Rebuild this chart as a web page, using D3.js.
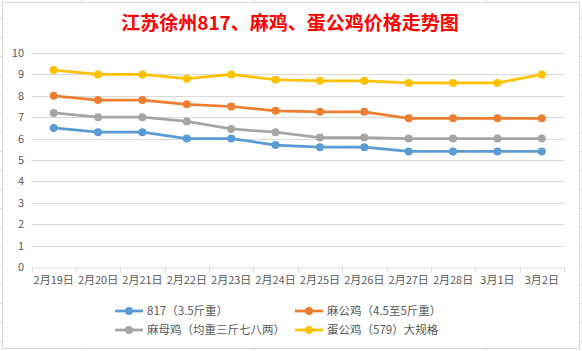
<!DOCTYPE html>
<html lang="zh">
<head>
<meta charset="UTF-8">
<script src="https://d3js.org/d3.v7.min.js"></script>
<style>
    body { margin: 0; background: #fff; overflow: hidden; }
    text { font-family: "Noto Sans CJK SC", "Noto Sans", sans-serif; }
</style>
</head>
<body>
<svg id="chart"></svg>
<script>
    const title = "江苏徐州817、麻鸡、蛋公鸡价格走势图";
    const dates = ["2月19日", "2月20日", "2月21日", "2月22日", "2月23日", "2月24日",
                   "2月25日", "2月26日", "2月27日", "2月28日", "3月1日", "3月2日"];
    const yTicks = [0, 1, 2, 3, 4, 5, 6, 7, 8, 9, 10];

    const s817 = [6.5, 6.3, 6.3, 6.0, 6.0, 5.7, 5.6, 5.6, 5.4, 5.4, 5.4, 5.4];
    const sMaGong = [8.0, 7.8, 7.8, 7.6, 7.5, 7.3, 7.25, 7.25, 6.95, 6.95, 6.95, 6.95];
    const sMaMu = [7.2, 7.0, 7.0, 6.8, 6.45, 6.3, 6.05, 6.05, 6.0, 6.0, 6.0, 6.0];
    const sDanGong = [9.2, 9.0, 9.0, 8.8, 9.0, 8.75, 8.7, 8.7, 8.6, 8.6, 8.6, 9.0];

    const series = [
        { name: "817（3.5斤重）", values: s817, color: "#5B9BD5" },
        { name: "麻公鸡（4.5至5斤重）", values: sMaGong, color: "#ED7D31" },
        { name: "麻母鸡（均重三斤七八两）", values: sMaMu, color: "#A5A5A5" },
        { name: "蛋公鸡（579）大规格", values: sDanGong, color: "#FFC000" }
    ];

    const width = 582, height = 351;
    const svg = d3.select("#chart").attr("width", width).attr("height", height);

    // spreadsheet cell lines behind the chart
    const cells = svg.append("g").attr("stroke", "#e0e0e0").attr("stroke-width", 1);
    [81, 254, 486].forEach(x => cells.append("line")
        .attr("x1", x + 0.5).attr("x2", x + 0.5).attr("y1", 0).attr("y2", height));
    d3.range(0, 18).forEach(i => {
        const y = Math.round(17.5 + i * 19.05) + 0.5;
        cells.append("line").attr("x1", 0).attr("x2", width).attr("y1", y).attr("y2", y);
    });

    // chart area
    svg.append("rect")
        .attr("x", 2.5).attr("y", 2.5).attr("width", 577).attr("height", 346)
        .attr("fill", "#fff").attr("stroke", "#d9d9d9");

    svg.append("text")
        .attr("x", 290).attr("y", 30)
        .attr("text-anchor", "middle")
        .attr("fill", "#FF0000")
        .style("font-size", "19px").style("font-weight", "bold")
        .text(title);

    const x = d3.scaleBand().domain(dates).range([31.5, 564]);
    const y = d3.scaleLinear().domain([0, 10]).range([267, 53]);

    // gridlines
    svg.append("g").selectAll("line").data(yTicks.slice(1)).join("line")
        .attr("x1", 31.5).attr("x2", 564)
        .attr("y1", d => Math.round(y(d)) + 0.5).attr("y2", d => Math.round(y(d)) + 0.5)
        .attr("stroke", "#d9d9d9");

    // y labels
    svg.append("g").selectAll("text").data(yTicks).join("text")
        .attr("x", 24).attr("y", d => y(d) + 4)
        .attr("text-anchor", "end")
        .attr("fill", "#595959")
        .style("font-size", "11px")
        .text(d => d);

    // x axis
    const xAxis = svg.append("g")
        .attr("transform", `translate(0,${Math.round(y(0)) + 0.5})`)
        .call(d3.axisBottom(x).tickSize(0).tickPadding(9));
    xAxis.select(".domain").attr("stroke", "#d9d9d9");
    xAxis.selectAll("text").attr("fill", "#595959").style("font-size", "11px")
        .style("font-family", "'Noto Sans CJK SC', sans-serif");
    const bounds = dates.map(d => x(d)).concat([x.range()[1]]);
    xAxis.selectAll(".bnd").data(bounds).join("line")
        .attr("x1", d => Math.round(d) + 0.5).attr("x2", d => Math.round(d) + 0.5)
        .attr("y1", 0).attr("y2", 5).attr("stroke", "#d9d9d9");

    const cx = d => x(d) + x.bandwidth() / 2;
    const line = d3.line().x((v, i) => cx(dates[i])).y(v => y(v));

    series.forEach(s => {
        svg.append("path").datum(s.values)
            .attr("d", line).attr("fill", "none")
            .attr("stroke", s.color).attr("stroke-width", 2.75)
            .attr("stroke-linejoin", "round");
        svg.append("g").selectAll("circle").data(s.values).join("circle")
            .attr("cx", (v, i) => cx(dates[i])).attr("cy", v => y(v))
            .attr("r", 4).attr("fill", s.color);
    });

    // legend
    const legPos = [[115, 311], [295, 311], [115, 330], [295, 330]];
    series.forEach((s, i) => {
        const [lx, ly] = legPos[i];
        const g = svg.append("g").attr("transform", `translate(${lx},${ly})`);
        g.append("line").attr("x1", 0).attr("x2", 28).attr("y1", 0).attr("y2", 0)
            .attr("stroke", s.color).attr("stroke-width", 2.75);
        g.append("circle").attr("cx", 14).attr("cy", 0).attr("r", 4).attr("fill", s.color);
        g.append("text").attr("x", 32).attr("y", 4)
            .attr("fill", "#595959").style("font-size", "11.5px")
            .text(s.name);
    });
</script>
</body>
</html>
